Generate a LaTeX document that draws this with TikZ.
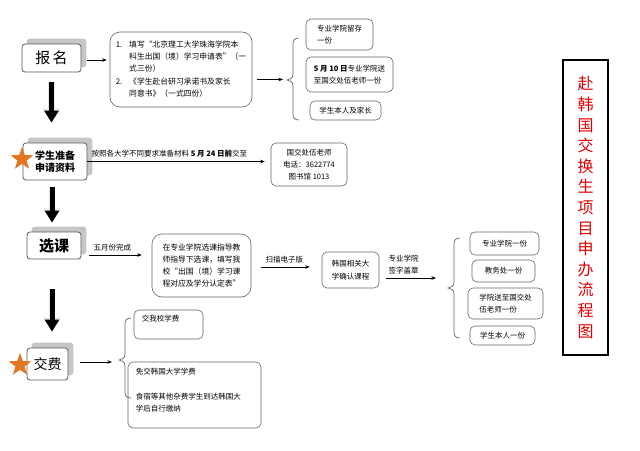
\documentclass[tikz,border=0pt]{standalone}
\usepackage{fontspec}
\setmainfont{Noto Sans CJK SC}
\usetikzlibrary{shapes.geometric,arrows.meta,calc,backgrounds}
\definecolor{starorange}{RGB}{226,118,36}
\definecolor{titlered}{RGB}{224,0,0}
\begin{document}
\begin{tikzpicture}[x=1pt,y=-1pt,
  stepbox/.style={draw=black!65, line width=0.8pt, fill=white, rounded corners=3pt, inner sep=0pt},
  shadowbox/.style={fill=gray!45, rounded corners=3pt},
  infobox/.style={draw=black!60, line width=0.6pt, fill=white, rounded corners=5pt, inner sep=0pt,
    align=left, font=\fontsize{7.5}{12.3}\selectfont},
  arr/.style={draw=black, line width=0.6pt, -{Stealth[length=4.5pt,width=3.5pt]}},
  brc/.style={draw=black!60, line width=0.7pt},
  bigarr/.style={line width=5pt, -{Triangle[length=12pt,width=14pt]},
    preaction={draw=gray!20, line width=6.5pt, -{Triangle[length=14pt,width=17pt]}}},
  lbl/.style={font=\fontsize{7.5}{12}\selectfont, inner sep=1pt, align=left},
  ostar/.style={star, star points=5, star point ratio=2.5, fill=starorange, draw=none, minimum size=24pt, inner sep=0pt}
]
\useasboundingbox (0,0) rectangle (640,450);

% step boxes
\node[stepbox, minimum width=59pt, minimum height=28pt, font=\fontsize{15}{15}\selectfont] (bm) at (51.5,58) {报\,名};
\node[stepbox, minimum width=64pt, minimum height=37pt, align=center, font=\bfseries\fontsize{10}{12.5}\selectfont] (bs) at (55,161.5) {学生准备\\申请资料};
\node[stepbox, minimum width=54pt, minimum height=27pt, font=\bfseries\fontsize{15}{15}\selectfont] (sk) at (54,245.5) {选课};
\node[stepbox, minimum width=41pt, minimum height=32pt, font=\fontsize{14}{14}\selectfont] (jf) at (47.5,364) {交费};
\begin{pgfonlayer}{background}
\foreach \n in {bm,bs,sk,jf}
  \fill[shadowbox] ([shift={(5pt,5pt)}]\n.south west) rectangle ([shift={(5pt,5pt)}]\n.north east);
\end{pgfonlayer}

\node[ostar] (st1) at (22,159) {};
\node[ostar] (st2) at (20,365) {};

% info boxes
\node[infobox, rounded corners=10pt, minimum width=142pt, minimum height=75pt, font=\fontsize{7.8}{12.3}\selectfont] (b1) at (181,69.5)
  {\begin{tabular}{@{}l@{\hspace{7pt}}l@{}}1. & 填写“北京理工大学珠海学院本\\ & 科生出国（境）学习申请表”（一\\ & 式三份）\\ 2. & 《学生赴台研习承诺书及家长\\ & 同意书》（一式四份）\end{tabular}};
\node[infobox, minimum width=67pt, minimum height=31pt] (r1) at (339.5,34.5) {专业学院留存\\一份\hspace{24pt}};
\node[infobox, minimum width=87pt, minimum height=35pt] (r2) at (349.5,74.5) {\textbf{5 月 10 日}专业学院送\\至国交处伍老师一份};
\node[infobox, minimum width=71pt, minimum height=19pt] (r3) at (345.5,110.5) {学生本人及家长};

\node[infobox, align=center, minimum width=76pt, minimum height=43pt, font=\fontsize{7.5}{11.8}\selectfont] (gj) at (309,164.5) {国交处伍老师\\电话：3622774\\图书馆 1013};

\node[infobox, rounded corners=10pt, minimum width=99pt, minimum height=63pt, font=\fontsize{7.8}{12.3}\selectfont] (xk) at (201.5,265.5)
  {在专业学院选课指导教\\师指导下选课，填写我\\校“出国（境）学习课\\程对应及学分认定表”};
\node[infobox, minimum width=57pt, minimum height=36pt] (hg) at (350.5,270) {韩国相关大\\学确认课程};

\node[infobox, minimum width=69pt, minimum height=23pt] (s1) at (504.5,243.5) {专业学院一份};
\node[infobox, minimum width=63pt, minimum height=22pt] (s2) at (503.5,271) {教务处一份};
\node[infobox, minimum width=75pt, minimum height=31pt] (s3) at (505.5,303.5) {学院送至国交处\\伍老师一份\hspace{21pt}};
\node[infobox, minimum width=65pt, minimum height=19pt] (s4) at (502.5,335.5) {学生本人一份};

\node[infobox, minimum width=69pt, minimum height=29pt,
  label={[lbl, anchor=north west, xshift=7pt, yshift=-4pt]north west:交我校学费}] (f1) at (168.5,324.5) {};
\node[infobox, minimum width=133pt, minimum height=66pt,
  label={[lbl, anchor=north west, xshift=7pt, yshift=-5pt, font=\fontsize{7.5}{12.5}\selectfont]north west:免交韩国大学学费\\[12.5pt]食宿等其他杂费学生到达韩国大\\学后自行缴纳}] (f2) at (194.5,395) {};

% title
\node[draw=black, line width=1.8pt, minimum width=45pt, minimum height=295pt, inner sep=0pt, text=titlered, align=center,
  font=\fontsize{16}{20.6}\selectfont] (title) at (585.5,207.5)
  {赴\\韩\\国\\交\\换\\生\\项\\目\\申\\办\\流\\程\\图};

% braces
\coordinate (t1) at (287,80);
\draw[brc] (299,38) .. controls (295,38) and (293,40) .. (293,44) -- (293,74) .. controls (293,78) and (290,80) .. (t1)
  .. controls (290,80) and (293,82) .. (293,86) -- (293,114) .. controls (293,118) and (295,120) .. (299,120);
\coordinate (t2) at (448,288);
\draw[brc] (460,238) .. controls (456,238) and (454,240) .. (454,244) -- (454,282) .. controls (454,286) and (451,288) .. (t2)
  .. controls (451,288) and (454,290) .. (454,294) -- (454,332) .. controls (454,336) and (456,338) .. (460,338);
\coordinate (t3) at (119,360);
\draw[brc] (131,318) .. controls (127,318) and (125,320) .. (125,324) -- (125,354) .. controls (125,358) and (122,360) .. (t3)
  .. controls (122,360) and (125,362) .. (125,366) -- (125,392) .. controls (125,396) and (127,398) .. (131,398);

% connectors
\coordinate (a0) at ([yshift=-2pt]bm.east);
\draw[arr, shorten <=6pt, shorten >=3pt] (a0) -- (a0 -| b1.west);
\coordinate (a1) at ([yshift=-10pt]b1.east);
\draw[arr, shorten <=5pt, shorten >=4pt] (a1) -- (a1 -| t1);

\draw[arr, shorten >=6pt] (bs.east) -- node[lbl, pos=0, anchor=south west, xshift=3pt, yshift=3pt] {按照各大学不同要求准备材料 \textbf{5 月 24 日前}交至} (bs.east -| gj.west);

\coordinate (a2) at ([yshift=-9.5pt]sk.east);
\draw[arr, shorten <=8pt, shorten >=10pt] (a2) -- node[lbl, pos=0, anchor=south west, xshift=11pt, yshift=3pt] {五月份完成} (a2 -| xk.west);
\coordinate (a3) at ([yshift=-1.5pt]xk.east);
\draw[arr, shorten <=10pt, shorten >=12pt] (a3) -- node[lbl, pos=0, anchor=south west, xshift=13pt, yshift=3pt] {扫描电子版} (a3 -| hg.west);
\coordinate (a4) at ([yshift=-8pt]hg.east);
\draw[arr, shorten <=7pt, shorten >=12pt] (a4) -- node[lbl, pos=0, anchor=south west, xshift=8pt, yshift=3pt] {专业学院\\签字盖章} (a4 -| t2);
\coordinate (a5) at ([yshift=2pt]jf.east);
\draw[arr, shorten <=12pt, shorten >=7pt] (a5) -- (a5 -| t3);

% big down arrows
\draw[bigarr, shorten <=10pt, shorten >=20pt] (bm.south) -- (bm.south |- bs.north);
\coordinate (d2) at ([xshift=-3pt]bs.south);
\draw[bigarr, shorten <=7pt, shorten >=9pt] (d2) -- (d2 |- sk.north);
\coordinate (d3) at ([xshift=-2pt]sk.south);
\draw[bigarr, shorten <=30pt, shorten >=16pt] (d3) -- (d3 |- jf.north);
\end{tikzpicture}
\end{document}
